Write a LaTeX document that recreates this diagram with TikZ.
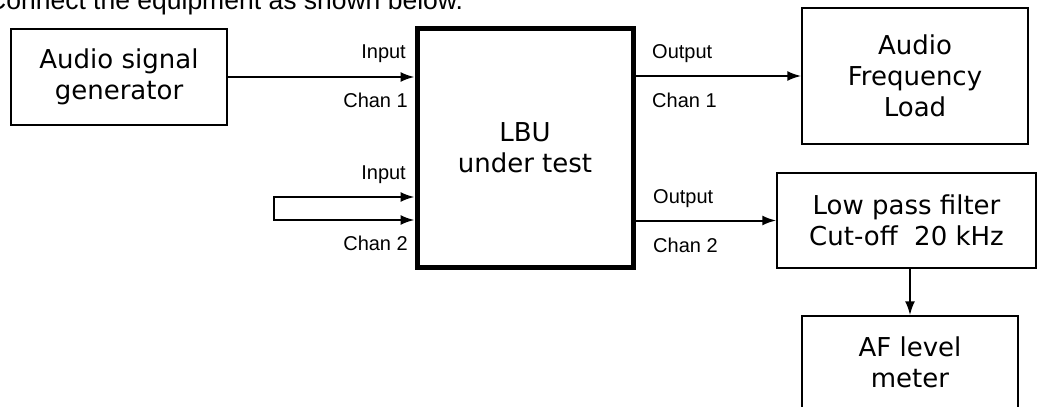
\documentclass[tikz,border=0pt]{standalone}
\usepackage{fontspec}
\setmainfont{Liberation Sans}
\newfontfamily\boxfont{DejaVu Sans}
\usetikzlibrary{arrows.meta, positioning}

\begin{document}
\begin{tikzpicture}[
    x=1pt, y=-1pt,
    box/.style={rectangle, draw, line width=1.5pt, align=center, inner sep=0pt, font=\boxfont\fontsize{26}{31}\selectfont},
    lbl/.style={inner sep=0pt, font=\fontsize{20}{24}\selectfont},
    arr/.style={-{Latex[length=14pt, width=10pt]}, line width=2pt}
]
\useasboundingbox (0,0) rectangle (1037,407);
\clip (0,0) rectangle (1037,407);

% Heading
\node[lbl, font=\fontsize{26.5}{30}\selectfont, anchor=base west] (title) at (-13,9) {Connect the equipment as shown below.};

% Boxes
\node[box, minimum width=216pt, minimum height=96pt] (gen) at (119,77) {Audio signal\\generator};
\node[box, line width=5pt, minimum width=216pt, minimum height=239pt] (lbu) at (525,147.5) {LBU\\under test};
\node[box, minimum width=226pt, minimum height=136pt] (load) at (915,76) {Audio\\Frequency\\Load};
\node[box, minimum width=259pt, minimum height=95pt] (lpf) at (906.5,220.5) {Low pass filter\\Cut-off~~20 kHz};
\node[box, minimum width=216pt, minimum height=92pt] (meter) at (910,362) {AF level\\meter};

% Loop on channel 2 input
\coordinate (loopa) at (274,197);
\coordinate (loopb) at (274,220);

% Arrows
\draw[arr] (gen.east) -- (gen.east -| lbu.west);
\draw[arr] (load.west -| lbu.east) -- (load.west);
\draw[arr, {Latex[length=14pt, width=10pt]}-{Latex[length=14pt, width=10pt]}] (lbu.west |- loopa) -- (loopa) -- (loopb) -- (lbu.west |- loopb);
\draw[arr] (lpf.west -| lbu.east) -- (lpf.west);
\draw[arr] (meter.north |- lpf.south) -- (meter.north);

% Labels
\node[lbl, anchor=base east] (in1) at (406,58) {Input};
\node[lbl, anchor=base east] (ch1in) at (408,107) {Chan 1};
\node[lbl, anchor=base east] (in2) at (406,179) {Input};
\node[lbl, anchor=base east] (ch2in) at (408,250) {Chan 2};
\node[lbl, anchor=base west] (out1) at (652,58) {Output};
\node[lbl, anchor=base west] (ch1out) at (652,107) {Chan 1};
\node[lbl, anchor=base west] (out2) at (653,203) {Output};
\node[lbl, anchor=base west] (ch2out) at (653,252) {Chan 2};

\end{tikzpicture}
\end{document}
